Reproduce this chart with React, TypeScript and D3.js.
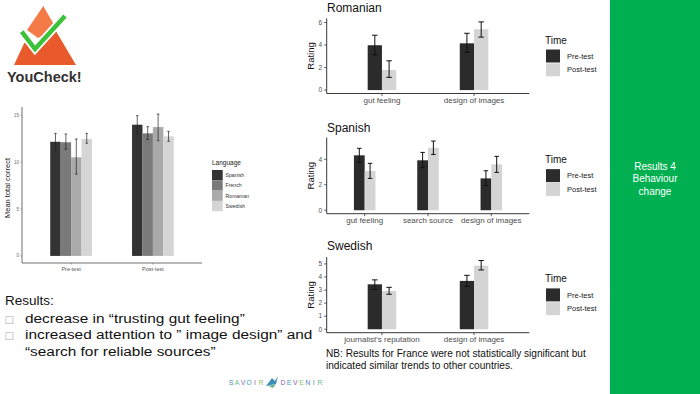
import React from "react";
import * as d3 from "d3";

// ---------- Left chart data ----------
const languages = ["Spanish", "French", "Romanian", "Swedish"];
const languageColors = ["#333333", "#7a7a7a", "#aaaaaa", "#d5d5d5"];
const testPhases = ["Pre-test", "Post-test"];
const preTestMeans = [12.15, 12.1, 10.5, 12.45];
const preTestLow = [11.2, 11.35, 8.72, 12.0];
const preTestHigh = [13.05, 12.98, 12.45, 13.05];
const postTestMeans = [13.97, 13.05, 13.72, 12.73];
const postTestLow = [13.0, 12.4, 12.27, 12.2];
const postTestHigh = [14.93, 13.76, 15.1, 13.26];
const leftTicks = [0, 5, 10, 15];

// ---------- Right charts data ----------
const timeLabels = ["Pre-test", "Post-test"];
const timeColors = ["#2b2b2b", "#d4d4d4"];

const romanianCategories = ["gut feeling", "design of images"];
const romanianPre = [3.98, 4.15];
const romanianPreLow = [3.12, 3.35];
const romanianPreHigh = [4.87, 5.04];
const romanianPost = [1.78, 5.4];
const romanianPostLow = [1.13, 4.7];
const romanianPostHigh = [2.6, 6.05];
const romanianTicks = [0, 2, 4, 6];

const spanishCategories = ["gut feeling", "search source", "design of images"];
const spanishPre = [4.31, 3.92, 2.5];
const spanishPreLow = [3.76, 3.34, 1.93];
const spanishPreHigh = [4.86, 4.54, 3.1];
const spanishPost = [3.08, 4.9, 3.6];
const spanishPostLow = [2.5, 4.38, 2.97];
const spanishPostHigh = [3.68, 5.43, 4.23];
const spanishTicks = [0, 2, 4];

const swedishCategories = ["journalist's reputation", "design of images"];
const swedishPre = [3.44, 3.7];
const swedishPreLow = [3.06, 3.27];
const swedishPreHigh = [3.78, 4.13];
const swedishPost = [2.93, 4.87];
const swedishPostLow = [2.68, 4.54];
const swedishPostHigh = [3.21, 5.26];
const swedishTicks = [0, 1, 2, 3, 4, 5];

const resultLines = [
  "decrease in \u201Ctrusting gut feeling\u201D",
  "increased attention to \u201D image design\u201D and",
];
const resultLast = "\u201Csearch for reliable sources\u201D";
const nbLines = [
  "NB: Results for France were not statistically significant but",
  "indicated similar trends to other countries.",
];
const savoirLetters = ["S", "A", "V", "O", "I", "R"];
const devenirLetters = ["D", "E", "V", "E", "N", "I", "R"];
const brandColors = ["#3f8fb5", "#6db88a", "#8a6aa8", "#3f9fc0", "#8a5aa8", "#8cc06a", "#5a7fb8"];

const FONT = "Liberation Sans, Arial, sans-serif";

function ggDomain(highs: number[]): [number, number] {
  const mx = d3.max(highs) as number;
  return [-0.05 * mx, 1.05 * mx];
}

type PanelProps = {
  title: string;
  titleY: number;
  categories: string[];
  pre: number[];
  preLow: number[];
  preHigh: number[];
  post: number[];
  postLow: number[];
  postHigh: number[];
  ticks: number[];
  yTop: number;
  yBottom: number;
  barWidth: number;
  capWidth: number;
};

function RatingPanel(p: PanelProps) {
  const x0 = 326.7;
  const x1 = 529.3;
  const x = d3.scalePoint<string>().domain(p.categories).range([x0, x1]).padding(0.6);
  const y = d3
    .scaleLinear()
    .domain(ggDomain([...p.preHigh, ...p.postHigh]))
    .range([p.yBottom, p.yTop]);
  const bw = (p.barWidth * x.step()) / 2;
  const cy = (p.yTop + p.yBottom) / 2;
  const series = [
    { vals: p.pre, lo: p.preLow, hi: p.preHigh, off: -bw, color: timeColors[0] },
    { vals: p.post, lo: p.postLow, hi: p.postHigh, off: 0, color: timeColors[1] },
  ];
  return (
    <g>
      <text x={327} y={p.titleY} fontSize={12} fill="#111" fontFamily={FONT}>
        {p.title}
      </text>
      {series.map((s, si) =>
        p.categories.map((c, i) => {
          const cx = (x(c) as number) + s.off;
          return (
            <rect
              key={`b${si}-${i}`}
              x={cx}
              y={y(s.vals[i])}
              width={bw}
              height={y(0) - y(s.vals[i])}
              fill={s.color}
            />
          );
        })
      )}
      {series.map((s, si) =>
        p.categories.map((c, i) => {
          const mx = (x(c) as number) + s.off + bw / 2;
          const hw = p.capWidth / 2;
          return (
            <g key={`e${si}-${i}`} stroke="#111" strokeWidth={1} fill="none">
              <line x1={mx} x2={mx} y1={y(s.lo[i])} y2={y(s.hi[i])} />
              <line x1={mx - hw} x2={mx + hw} y1={y(s.lo[i])} y2={y(s.lo[i])} />
              <line x1={mx - hw} x2={mx + hw} y1={y(s.hi[i])} y2={y(s.hi[i])} />
            </g>
          );
        })
      )}
      {/* axes */}
      <line x1={x0} x2={x0} y1={p.yTop} y2={p.yBottom} stroke="#222" strokeWidth={0.9} />
      <line x1={x0} x2={x1} y1={p.yBottom} y2={p.yBottom} stroke="#222" strokeWidth={0.9} />
      {p.ticks.map((t) => (
        <g key={`t${t}`}>
          <line x1={x0 - 2.5} x2={x0} y1={y(t)} y2={y(t)} stroke="#333" strokeWidth={0.8} />
          <text
            x={x0 - 4.5}
            y={y(t)}
            dy="0.35em"
            textAnchor="end"
            fontSize={6.5}
            fill="#4d4d4d"
            fontFamily={FONT}
          >
            {t}
          </text>
        </g>
      ))}
      {p.categories.map((c) => (
        <g key={`x${c}`}>
          <line
            x1={x(c) as number}
            x2={x(c) as number}
            y1={p.yBottom}
            y2={p.yBottom + 2.5}
            stroke="#333"
            strokeWidth={0.8}
          />
          <text
            x={x(c) as number}
            y={p.yBottom + 9.5}
            textAnchor="middle"
            fontSize={8}
            fill="#4d4d4d"
            fontFamily={FONT}
          >
            {c}
          </text>
        </g>
      ))}
      <text
        transform={`translate(313.5,${cy}) rotate(-90)`}
        textAnchor="middle"
        fontSize={9.5}
        fill="#111"
        fontFamily={FONT}
      >
        Rating
      </text>
      {/* legend */}
      <text x={545} y={cy - 12.5} fontSize={10} fill="#111" fontFamily={FONT}>
        Time
      </text>
      {timeLabels.map((l, i) => (
        <g key={l}>
          <rect x={546} y={cy - 6.5 + i * 13.8} width={14} height={13} fill={timeColors[i]} />
          <text
            x={567}
            y={cy - 6.5 + i * 13.8 + 6.5}
            dy="0.35em"
            fontSize={7.5}
            fill="#222"
            fontFamily={FONT}
          >
            {l}
          </text>
        </g>
      ))}
    </g>
  );
}

function LeftChart() {
  const x0 = 22;
  const x1 = 202;
  const yTop = 107;
  const yBottom = 263;
  const x = d3.scalePoint<string>().domain(testPhases).range([x0, x1]).padding(0.6);
  const y = d3
    .scaleLinear()
    .domain(ggDomain([...preTestHigh, ...postTestHigh]))
    .range([yBottom, yTop]);
  const groupW = 0.51 * x.step();
  const inner = d3.scaleBand<string>().domain(languages).range([-groupW / 2, groupW / 2]);
  const groups = [
    { phase: testPhases[0], m: preTestMeans, lo: preTestLow, hi: preTestHigh },
    { phase: testPhases[1], m: postTestMeans, lo: postTestLow, hi: postTestHigh },
  ];
  return (
    <g>
      {groups.map((g) =>
        languages.map((lang, i) => {
          const bx = (x(g.phase) as number) + (inner(lang) as number);
          return (
            <rect
              key={`${g.phase}-${lang}`}
              x={bx}
              y={y(g.m[i])}
              width={inner.bandwidth()}
              height={y(0) - y(g.m[i])}
              fill={languageColors[i]}
            />
          );
        })
      )}
      {groups.map((g) =>
        languages.map((lang, i) => {
          const mx = (x(g.phase) as number) + (inner(lang) as number) + inner.bandwidth() / 2;
          return (
            <g key={`e-${g.phase}-${lang}`} stroke="#222" strokeWidth={0.7}>
              <line x1={mx} x2={mx} y1={y(g.lo[i])} y2={y(g.hi[i])} />
              <line x1={mx - 1.3} x2={mx + 1.3} y1={y(g.lo[i])} y2={y(g.lo[i])} />
              <line x1={mx - 1.3} x2={mx + 1.3} y1={y(g.hi[i])} y2={y(g.hi[i])} />
            </g>
          );
        })
      )}
      <line x1={x0} x2={x0} y1={yTop} y2={yBottom} stroke="#333" strokeWidth={0.7} />
      <line x1={x0} x2={x1} y1={yBottom} y2={yBottom} stroke="#333" strokeWidth={0.7} />
      {leftTicks.map((t) => (
        <g key={t}>
          <line x1={x0 - 1.5} x2={x0} y1={y(t)} y2={y(t)} stroke="#555" strokeWidth={0.5} />
          <text
            x={x0 - 3}
            y={y(t)}
            dy="0.35em"
            textAnchor="end"
            fontSize={4.5}
            fill="#666"
            fontFamily={FONT}
          >
            {t}
          </text>
        </g>
      ))}
      {testPhases.map((ph) => (
        <g key={ph}>
          <line
            x1={x(ph) as number}
            x2={x(ph) as number}
            y1={yBottom}
            y2={yBottom + 1.5}
            stroke="#555"
            strokeWidth={0.5}
          />
          <text
            x={x(ph) as number}
            y={yBottom + 7.5}
            textAnchor="middle"
            fontSize={5.5}
            fill="#555"
            fontFamily={FONT}
          >
            {ph}
          </text>
        </g>
      ))}
      <text
        transform={`translate(10,${(yTop + yBottom) / 2 + 3}) rotate(-90)`}
        textAnchor="middle"
        fontSize={7.5}
        fill="#222"
        fontFamily={FONT}
      >
        Mean total correct
      </text>
      <text x={212} y={165} fontSize={6.5} fill="#222" fontFamily={FONT}>
        Language
      </text>
      {languages.map((l, i) => (
        <g key={l}>
          <rect x={212} y={170 + i * 10.3} width={10.7} height={10.3} fill={languageColors[i]} />
          <text
            x={225.5}
            y={170 + i * 10.3 + 5.2}
            dy="0.35em"
            fontSize={5.2}
            fill="#333"
            fontFamily={FONT}
          >
            {l}
          </text>
        </g>
      ))}
    </g>
  );
}

function Logo() {
  return (
    <g>
      <polygon points="43.3,6 56.5,29 38,38 27,30" fill="#f47a48" />
      <polygon points="14,65 76,65 55,29.5 35,50 24.5,42.5" fill="#e85a2c" />
      <path d="M21.7,31.7 L35,49 L65,16" fill="none" stroke="#fff" strokeWidth={8} strokeLinejoin="miter" />
      <path d="M21.7,31.7 L35,49 L65,16" fill="none" stroke="#3cc13b" strokeWidth={4.5} strokeLinejoin="miter" />
      <text x={7} y={81.5} fontSize={14.5} fontWeight="bold" fill="#333" fontFamily={FONT}>
        YouCheck!
      </text>
    </g>
  );
}

function SavoirDevenir() {
  const sx = d3.scaleLinear().domain([0, savoirLetters.length - 1]).range([231, 261]);
  const dx = d3.scaleLinear().domain([0, devenirLetters.length - 1]).range([283, 320]);
  return (
    <g fontFamily={FONT} fontSize={7}>
      {savoirLetters.map((l, i) => (
        <text key={`s${i}`} x={sx(i)} y={384.5} textAnchor="middle" fill={brandColors[i % brandColors.length]}>
          {l}
        </text>
      ))}
      <path d="M266,386 L272,378 L275,381 L278,376 L276,384 Z" fill="#3f8fb5" />
      <path d="M268,386 L276,384 L273,388 Z" fill="#6db88a" />
      {devenirLetters.map((l, i) => (
        <text key={`d${i}`} x={dx(i)} y={384.5} textAnchor="middle" fill={brandColors[(i + 2) % brandColors.length]}>
          {l}
        </text>
      ))}
    </g>
  );
}

export default function App() {
  return (
    <svg
      width={700}
      height={394}
      viewBox="0 0 700 394"
      style={{ position: "absolute", left: 0, top: 0, background: "#fff" }}
    >
      <rect x={0} y={0} width={700} height={394} fill="#fff" />
      <Logo />
      <LeftChart />
      <RatingPanel
        title="Romanian"
        titleY={11.7}
        categories={romanianCategories}
        pre={romanianPre}
        preLow={romanianPreLow}
        preHigh={romanianPreHigh}
        post={romanianPost}
        postLow={romanianPostLow}
        postHigh={romanianPostHigh}
        ticks={romanianTicks}
        yTop={18.5}
        yBottom={93.5}
        barWidth={0.31}
        capWidth={5.5}
      />
      <RatingPanel
        title="Spanish"
        titleY={132.3}
        categories={spanishCategories}
        pre={spanishPre}
        preLow={spanishPreLow}
        preHigh={spanishPreHigh}
        post={spanishPost}
        postLow={spanishPostLow}
        postHigh={spanishPostHigh}
        ticks={spanishTicks}
        yTop={137.6}
        yBottom={213.7}
        barWidth={0.34}
        capWidth={4.5}
      />
      <RatingPanel
        title="Swedish"
        titleY={250}
        categories={swedishCategories}
        pre={swedishPre}
        preLow={swedishPreLow}
        preHigh={swedishPreHigh}
        post={swedishPost}
        postLow={swedishPostLow}
        postHigh={swedishPostHigh}
        ticks={swedishTicks}
        yTop={257.1}
        yBottom={332.7}
        barWidth={0.31}
        capWidth={5.5}
      />
      {/* Results text */}
      <g fontFamily={FONT} fill="#111" fontSize={13.5}>
        <text x={5} y={304.5}>Results:</text>
        {resultLines.map((l, i) => (
          <g key={i}>
            <text x={4.5} y={322.5 + i * 16.5} fontSize={10} fill="#aaa" fontFamily="DejaVu Sans">
              {"\u25A1"}
            </text>
            <text transform={`translate(25,${322.5 + i * 16.5}) scale(1.14,1)`}>{l}</text>
          </g>
        ))}
        <text transform={`translate(25,355.5) scale(1.14,1)`}>{resultLast}</text>
      </g>
      <g fontFamily={FONT} fill="#111" fontSize={10.1}>
        {nbLines.map((l, i) => (
          <text key={i} x={326} y={357.3 + i * 11.2}>
            {l}
          </text>
        ))}
      </g>
      <SavoirDevenir />
      {/* Green side panel */}
      <rect x={610} y={0} width={90} height={394} fill="#00b050" />
      <g fontFamily={FONT} fill="#fff" fontSize={10} textAnchor="middle">
        <text x={655} y={169.5}>Results 4</text>
        <text x={655} y={182}>Behaviour</text>
        <text x={655} y={194.5}>change</text>
      </g>
    </svg>
  );
}
